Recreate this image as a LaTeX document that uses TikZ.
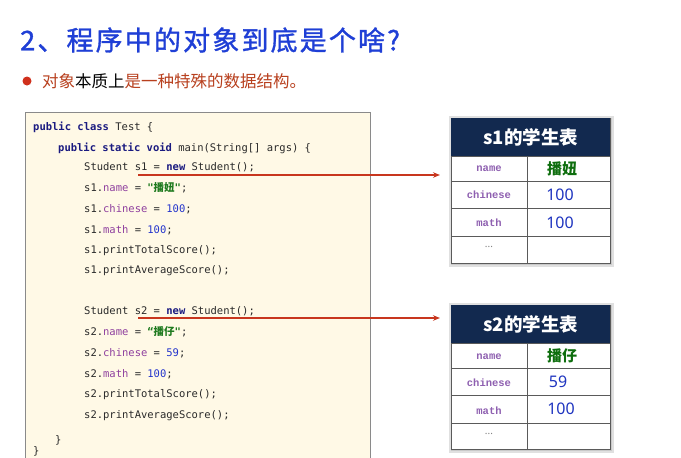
\documentclass[tikz,border=0pt]{standalone}
\usepackage{fontspec}
\usetikzlibrary{arrows.meta}
\setmonofont{DejaVu Sans Mono}
\newfontfamily\cjk{Noto Sans CJK SC}
\newfontfamily\titlefont[LetterSpace=8,FakeBold=1.2]{Noto Sans CJK SC}
\newfontfamily\tabmono{Liberation Mono}
\newfontfamily\numfont{Noto Sans}
\definecolor{titleblue}{HTML}{1F3FD6}
\definecolor{bulletred}{HTML}{D0301C}
\definecolor{textred}{HTML}{B8401E}
\definecolor{codebg}{HTML}{FFF9E6}
\definecolor{codeborder}{HTML}{8A8A8A}
\definecolor{codetext}{HTML}{2A2A2A}
\definecolor{kwcol}{HTML}{1A1A80}
\definecolor{fieldcol}{HTML}{8E3F9E}
\definecolor{strcol}{HTML}{1E7A1E}
\definecolor{numcol}{HTML}{2233CC}
\definecolor{arrowred}{HTML}{C8361E}
\definecolor{hdrcol}{HTML}{12294F}
\definecolor{tabline}{HTML}{5A5A5A}
\definecolor{tabfield}{HTML}{8E5FB0}
\definecolor{tabgreen}{HTML}{0E6E0E}
\definecolor{tabnum}{HTML}{1F35C0}
\newcommand\mykw[1]{\textcolor{kwcol}{\bfseries #1}}
\newcommand\myfld[1]{\textcolor{fieldcol}{#1}}
\newcommand\mynum[1]{\textcolor{numcol}{#1}}
\newcommand\mystr[1]{\textcolor{strcol}{\bfseries #1}}
\begin{document}
\begin{tikzpicture}[x=1pt,y=-1pt,
  codeln/.style={anchor=west,inner sep=0pt,font=\ttfamily\fontsize{10.5}{12}\selectfont,text=codetext},
  conn/.style={draw=arrowred,line width=1.4pt,-{Stealth[length=7pt,width=5.5pt]},shorten >=11pt},
  tablebox/.style={draw=tabline,line width=0.8pt,fill=white,anchor=north west,inner sep=0pt,minimum width=159pt},
  hdrbox/.style={fill=hdrcol,anchor=north west,inner sep=0pt,minimum width=159pt,minimum height=38pt,text=white,font=\cjk\bfseries\fontsize{18.5}{20}\selectfont},
  fieldtxt/.style={inner sep=0pt,text=tabfield,font=\tabmono\bfseries\fontsize{10.5}{12}\selectfont},
  valtxt/.style={inner sep=0pt,font=\numfont\fontsize{16}{18}\selectfont,text=tabnum},
  cjkval/.style={inner sep=0pt,font=\cjk\bfseries\fontsize{15}{17}\selectfont,text=tabgreen},
  grid/.style={draw=tabline,line width=0.8pt}]
\useasboundingbox (0,0) rectangle (681,458);
\clip (0,0) rectangle (681,458);
\fill[white] (0,0) rectangle (681,458);
% title
\node[anchor=west,inner sep=0pt,text=titleblue,font=\titlefont\fontsize{27}{30}\selectfont] (title) at (20,40) {2、程序中的对象到底是个啥?};
% bullet
\node[circle,fill=bulletred,inner sep=0pt,minimum size=9pt] (dot) at (27,81) {};
\node[anchor=west,inner sep=0pt,font=\cjk\fontsize{16.5}{18}\selectfont,text=black] (sub) at (42,81) {\textcolor{textred}{对象}本质上\textcolor{textred}{是一种特殊的数据结构。}};
% code box
\draw[codeborder,fill=codebg,line width=0.9pt] (25,112) rectangle (370,480);
\node[codeln] (c1) at (33,127) {\mykw{public class} Test \{};
\node[codeln] (c2) at (58,148) {\mykw{public static void} main(String[] args) \{};
\node[codeln] (c3) at (84,167) {Student s1 = \mykw{new} Student();};
\node[codeln] (c4) at (84,188) {s1.\myfld{name} = \mystr{"{\cjk 播妞}"};};
\node[codeln] (c5) at (84,209) {s1.\myfld{chinese} = \mynum{100};};
\node[codeln] (c6) at (84,230) {s1.\myfld{math} = \mynum{100};};
\node[codeln] (c7) at (84,251) {s1.printTotalScore();};
\node[codeln] (c8) at (84,271) {s1.printAverageScore();};
\node[codeln] (d3) at (84,311) {Student s2 = \mykw{new} Student();};
\node[codeln] (d4) at (84,332) {s2.\myfld{name} = \mystr{“{\cjk 播仔}"};};
\node[codeln] (d5) at (84,353) {s2.\myfld{chinese} = \mynum{59};};
\node[codeln] (d6) at (84,374) {s2.\myfld{math} = \mynum{100};};
\node[codeln] (d7) at (84,395) {s2.printTotalScore();};
\node[codeln] (d8) at (84,416) {s2.printAverageScore();};
\node[codeln] (e1) at (55,440) {\}};
\node[codeln] (e2) at (33,451) {\}};
% table 1
\fill[black,opacity=0.12] (449,116) rectangle (614,267);
\fill[black,opacity=0.10] (451,118) rectangle (612,265);
\node[tablebox,minimum height=145pt] (t1) at (451,118) {};
\node[hdrbox] (h1) at (451,118) {s1的学生表};
\draw[grid] (451,156) -- (610,156) (451,181) -- (610,181) (451,208) -- (610,208) (451,236) -- (610,236) (527,156) -- (527,263);
\node[fieldtxt] (t1n) at (489,169) {name};
\node[fieldtxt] (t1c) at (489,195) {chinese};
\node[fieldtxt] (t1m) at (489,223) {math};
\node[inner sep=0pt,text=gray,font=\numfont\fontsize{10}{10}\selectfont] (t1e) at (489,247) {...};
\node[cjkval] (t1nv) at (562,169) {播妞};
\node[valtxt] (t1cv) at (560,195) {100};
\node[valtxt] (t1mv) at (560,223) {100};
% table 2
\fill[black,opacity=0.12] (449,303) rectangle (614,453);
\fill[black,opacity=0.10] (451,305) rectangle (612,451);
\node[tablebox,minimum height=144pt] (t2) at (451,305) {};
\node[hdrbox] (h2) at (451,305) {s2的学生表};
\draw[grid] (451,343) -- (610,343) (451,368) -- (610,368) (451,395) -- (610,395) (451,423) -- (610,423) (527,343) -- (527,449);
\node[fieldtxt] (t2n) at (489,357) {name};
\node[fieldtxt] (t2c) at (489,383) {chinese};
\node[fieldtxt] (t2m) at (489,411) {math};
\node[inner sep=0pt,text=gray,font=\numfont\fontsize{10}{10}\selectfont] (t2e) at (489,434) {...};
\node[cjkval] (t2nv) at (562,356) {播仔};
\node[valtxt] (t2cv) at (558,382) {59};
\node[valtxt] (t2mv) at (561,409) {100};
% arrows
\coordinate (a1) at (138,175);
\coordinate (a2) at (138,318);
\draw[conn] (a1) -- (t1.west |- a1);
\draw[conn] (a2) -- (t2.west |- a2);
\end{tikzpicture}
\end{document}
